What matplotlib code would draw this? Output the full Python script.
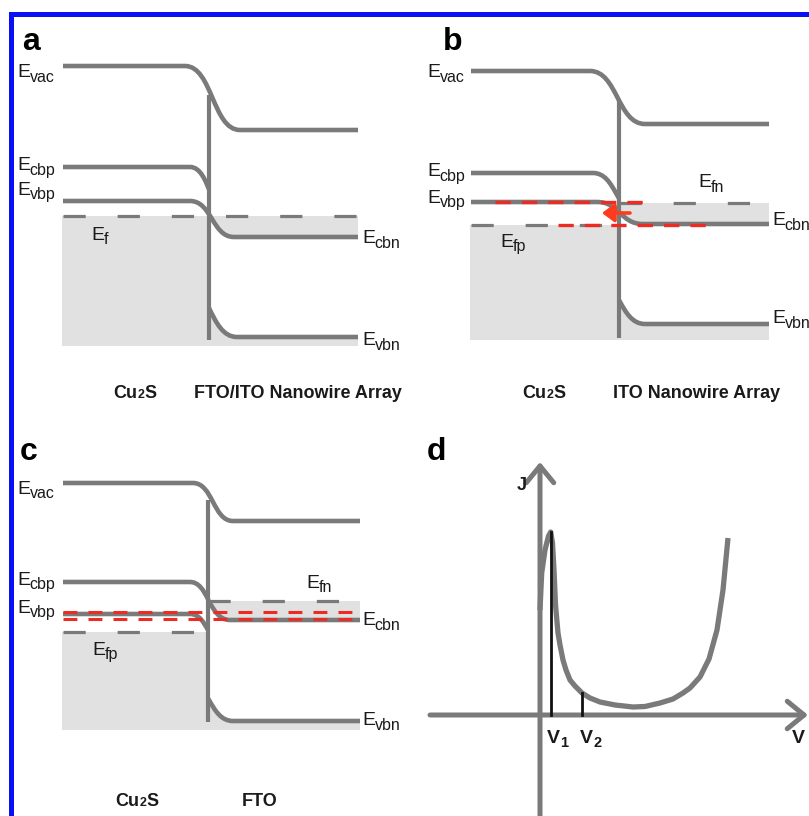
import matplotlib
matplotlib.use("Agg")
import matplotlib.pyplot as plt
from matplotlib.path import Path
from matplotlib.patches import PathPatch, Rectangle, FancyArrowPatch

# ---------------- data (schematic energy levels, panel units, down = lower energy) -------------
# panel a : Cu2S / FTO-ITO nanowire array in equilibrium
a_evac = [66, 130]
a_ecbp = [167, 222]
a_evbp = [201, 237]          # continues into E_cbn
a_evbn = [279, 337]
a_ef = [216, 216]            # p side, n side
# panel b : Cu2S / ITO nanowire array
b_evac = [71, 124]
b_ecbp = [173, 215]
b_evbp = [202, 224]          # continues into E_cbn
b_evbn = [276, 324]
b_ef = [225, 203]            # E_fp, E_fn
b_red = [202, 225]           # red dashed quasi levels
# panel c : Cu2S / FTO
c_evac = [75, 113]
c_ecbp = [174, 208]
c_evbp = [206, 238]
c_ecbn = [175, 212]
c_evbn = [271, 313]
c_ef = [224, 193]            # E_fp, E_fn
c_red = [204, 211]
# panel d : J-V curve
d_v = [0.0, 0.17, 0.5, 0.85, 1.07, 1.25, 1.4, 1.55, 1.8, 2.0, 2.3, 2.6, 3.0, 3.5, 4.2,
       5.0, 6.0, 7.5, 9.3, 10.5, 12.0, 13.3, 14.3, 15.0, 16.0, 16.9, 17.7, 18.3, 18.8]
d_j = [10.5, 14.2, 16.5, 17.9, 18.3, 17.2, 14.5, 11.0, 8.2, 7.0, 5.5, 4.5, 3.5, 2.9, 2.2,
       1.7, 1.3, 1.0, 0.8, 0.85, 1.2, 1.6, 2.2, 2.7, 3.8, 5.6, 8.5, 12.5, 17.7]
d_v1 = [1.1, 18.3]
d_v2 = [4.2, 2.2]

# ---------------- style ----------------
GRAY = "#7a7a7a"
FILL = "#e1e1e1"
RED = "#ee2b22"
TXT = "#1a1a1a"
LW = 3.3
W, H = 809, 816

plt.rcParams["font.family"] = ["Liberation Sans", "DejaVu Sans"]
plt.rcParams["lines.scale_dashes"] = False

fig = plt.figure(figsize=(W / 100, H / 100), dpi=100)
fig.patch.set_facecolor("white")


def panel_axes(px, py, w, h):
    ax = fig.add_axes([px / W, 1 - (py + h) / H, w / W, h / H])
    ax.set_xlim(0, w)
    ax.set_ylim(h, 0)
    ax.axis("off")
    return ax


def s_path(x0, x1, lev, bend, close_to=None):
    y0, y1 = lev
    b0, b1 = bend
    m = (b1 - b0) * 0.5
    verts = [(x0, y0), (b0, y0), (b0 + m, y0), (b1 - m, y1), (b1, y1), (x1, y1)]
    codes = [Path.MOVETO, Path.LINETO, Path.CURVE4, Path.CURVE4, Path.CURVE4, Path.LINETO]
    if close_to is not None:
        verts += [(x1, close_to), (x0, close_to), (x0, y0)]
        codes += [Path.LINETO, Path.LINETO, Path.CLOSEPOLY]
    return Path(verts, codes)


def clip_rect(ax, side, xj):
    if side == "left":
        return Rectangle((-1000, -1000), xj + 1000, 3000, transform=ax.transData)
    return Rectangle((xj, -1000), 2000, 3000, transform=ax.transData)


def band(ax, x0, x1, lev, bend, side=None, xj=None):
    p = PathPatch(s_path(x0, x1, lev, bend), fill=False, ec=GRAY, lw=LW,
                  capstyle="butt", joinstyle="round", zorder=3)
    ax.add_patch(p)
    if side:
        p.set_clip_path(clip_rect(ax, side, xj))


def band_fill(ax, x0, x1, lev, bend, to, side, xj):
    p = PathPatch(s_path(x0, x1, lev, bend, close_to=to), fc=FILL, ec="none", zorder=1)
    ax.add_patch(p)
    p.set_clip_path(clip_rect(ax, side, xj))


def dashed(ax, x0, x1, y, color=GRAY, lw=2.3, dashes=(16, 23), z=2):
    ax.plot([x0, x1], [y, y], color=color, lw=lw, dashes=dashes, zorder=z,
            dash_capstyle="butt")


def elabel(ax, x, y, sub):
    ax.text(x, y, "E", fontsize=14, color=TXT, ha="left", va="baseline", zorder=6)
    ax.text(x + 12.5, y + 4.5, sub, fontsize=11.5, color=TXT, ha="left", va="baseline", zorder=6)


def letter(ax, x, y, s):
    ax.text(x, y, s, fontsize=23, fontweight="bold", color="black", ha="left", va="baseline")


def bottom(ax, x, y, s):
    ax.text(x, y, s, fontsize=13, color=TXT, ha="center", va="baseline", fontweight="bold")


def cu2s(ax, xl, y):
    ax.text(xl, y, "Cu", fontsize=13, color=TXT, ha="left", va="baseline", fontweight="bold")
    ax.text(xl + 24.5, y, "2", fontsize=9, color=TXT, ha="left", va="baseline", fontweight="bold")
    ax.text(xl + 31, y, "S", fontsize=13, color=TXT, ha="left", va="baseline", fontweight="bold")


# ---------------- panel a ----------------
ax = panel_axes(0, 0, 404, 408)
x0, xj, x1, bot = 63, 209, 358, 346
ax.add_patch(Rectangle((x0 - 1, a_ef[0]), xj - x0 + 1, bot - a_ef[0], fc=FILL, ec="none", zorder=1))
band_fill(ax, x0, x1, a_evbp, (190, 234), a_ef[1], "right", xj)
band_fill(ax, x0, x1, a_evbn, (181, 237), bot, "right", xj)
dashed(ax, x0, x1, a_ef[0])
band(ax, x0, x1, a_evac, (185, 240))
band(ax, x0, x1, a_ecbp, (190, 232), "left", xj)
band(ax, x0, x1, a_evbp, (190, 234))
band(ax, x0, x1, a_evbn, (181, 237), "right", xj)
ax.plot([xj, xj], [95, 340], color=GRAY, lw=3.0, zorder=3, solid_capstyle="butt")
letter(ax, 22, 50, "a")
elabel(ax, 17, 77, "vac")
elabel(ax, 17, 170, "cbp")
elabel(ax, 17, 195, "vbp")
elabel(ax, 91, 240, "f")
elabel(ax, 362, 243, "cbn")
elabel(ax, 362, 345, "vbn")
cu2s(ax, 113, 398)
bottom(ax, 298, 398, "FTO/ITO Nanowire Array")

# ---------------- panel b ----------------
ax = panel_axes(408, 0, 401, 408)
x0, xj, x1, bot = 63, 211, 361, 340
ax.add_patch(Rectangle((x0 - 1, b_ef[0]), xj - x0 + 1, bot - b_ef[0], fc=FILL, ec="none", zorder=1))
band_fill(ax, x0, x1, b_evbp, (189, 235), b_ef[1], "right", xj)
band_fill(ax, x0, x1, b_evbn, (185, 237), bot, "right", xj)
dashed(ax, x0, xj, b_ef[0])
dashed(ax, xj, x1, b_ef[1])
band(ax, x0, x1, b_evac, (182, 237))
band(ax, x0, x1, b_ecbp, (185, 232), "left", xj)
band(ax, x0, x1, b_evbp, (189, 235))
band(ax, x0, x1, b_evbn, (185, 237), "right", xj)
ax.plot([xj, xj], [100, 338], color=GRAY, lw=3.0, zorder=3, solid_capstyle="butt")
dashed(ax, 87, 240, b_red[0], color=RED, lw=2.4, dashes=(11, 8), z=4)
dashed(ax, 150, 306, b_red[1], color=RED, lw=2.4, dashes=(11, 8), z=4)
ax.add_patch(FancyArrowPatch((222, 213), (194, 213), arrowstyle="-|>,head_length=0.6,head_width=0.45",
                             mutation_scale=12, color="#ff3a1e", lw=2.6, zorder=5,
                             shrinkA=0, shrinkB=0))
letter(ax, 35, 50, "b")
elabel(ax, 19, 77, "vac")
elabel(ax, 19, 176, "cbp")
elabel(ax, 19, 203, "vbp")
elabel(ax, 92, 247, "fp")
elabel(ax, 290, 187, "fn")
elabel(ax, 364, 225, "cbn")
elabel(ax, 364, 323, "vbn")
cu2s(ax, 114, 398)
bottom(ax, 289, 398, "ITO Nanowire Array")

# ---------------- panel c ----------------
ax = panel_axes(0, 408, 404, 408)
x0, xj, x1, bot = 63, 208, 360, 322
ax.add_patch(Rectangle((x0 - 1, c_ef[0]), xj - x0 + 1, bot - c_ef[0], fc=FILL, ec="none", zorder=1))
band_fill(ax, x0, x1, c_ecbn, (188, 230), c_ef[1], "right", xj)
band_fill(ax, x0, x1, c_evbn, (185, 233), bot, "right", xj)
dashed(ax, x0, xj, c_ef[0])
dashed(ax, xj, x1, c_ef[1])
band(ax, x0, x1, c_evac, (193, 233))
band(ax, x0, x1, c_ecbp, (190, 226), "left", xj)
band(ax, x0, x1, c_evbp, (190, 226), "left", xj)
band(ax, x0, x1, c_ecbn, (188, 230), "right", xj)
band(ax, x0, x1, c_evbn, (185, 233), "right", xj)
ax.plot([xj, xj], [92, 314], color=GRAY, lw=3.0, zorder=3, solid_capstyle="butt")
dashed(ax, x0, x1, c_red[0], color=RED, lw=2.2, dashes=(10, 8), z=4)
dashed(ax, x0, x1, c_red[1], color=RED, lw=2.2, dashes=(10, 8), z=4)
letter(ax, 20, 52, "c")
elabel(ax, 17, 86, "vac")
elabel(ax, 17, 177, "cbp")
elabel(ax, 17, 205, "vbp")
elabel(ax, 92, 247, "fp")
elabel(ax, 306, 180, "fn")
elabel(ax, 362, 217, "cbn")
elabel(ax, 362, 317, "vbn")
cu2s(ax, 115, 398)
bottom(ax, 260, 398, "FTO")

# ---------------- panel d ----------------
vmin, vmax, jmin, jmax = -12.0, 26.9, -10.1, 26.0
axd = fig.add_axes([420 / W, 0, 389 / W, 361 / H])
axd.set_xlim(vmin, vmax)
axd.set_ylim(jmin, jmax)
axd.axis("off")
arrow_kw = dict(arrowstyle="->,head_length=0.55,head_width=0.45", mutation_scale=22,
                color=GRAY, lw=3.6, zorder=2, shrinkA=0, shrinkB=0)
axd.add_patch(FancyArrowPatch((0, jmin), (0, 25.3), **arrow_kw))
axd.add_patch(FancyArrowPatch((-11.0, 0), (26.8, 0), **arrow_kw))
axd.plot(d_v, d_j, color=GRAY, lw=3.8, zorder=3, solid_joinstyle="round", solid_capstyle="butt")
axd.plot([d_v1[0], d_v1[0]], [0, d_v1[1]], color="#111111", lw=2.0, zorder=4)
axd.plot([d_v2[0], d_v2[0]], [0, d_v2[1]], color="#111111", lw=2.0, zorder=4)
axd.text(-2.3, 22.5, "J", fontsize=13, color=TXT, ha="left", va="baseline", fontweight="bold")
for vx, s in [(0.7, "1"), (4.0, "2")]:
    axd.text(vx, -2.8, "V", fontsize=14, color=TXT, ha="left", va="baseline", fontweight="bold")
    axd.text(vx + 1.35, -3.2, s, fontsize=10.5, color=TXT, ha="left", va="baseline", fontweight="bold")
axd.text(25.2, -2.8, "V", fontsize=14, color=TXT, ha="left", va="baseline", fontweight="bold")
letter(panel_axes(408, 408, 401, 408), 19, 52, "d")

# ---------------- blue frame ----------------
fig.patches.append(Rectangle((10.8 / W, -0.1), 2, 1 - 14.2 / H + 0.1, transform=fig.transFigure,
                             fill=False, ec="#0a10f5", lw=3.6, zorder=10))

fig.savefig("out.png", dpi=100, facecolor="white")
